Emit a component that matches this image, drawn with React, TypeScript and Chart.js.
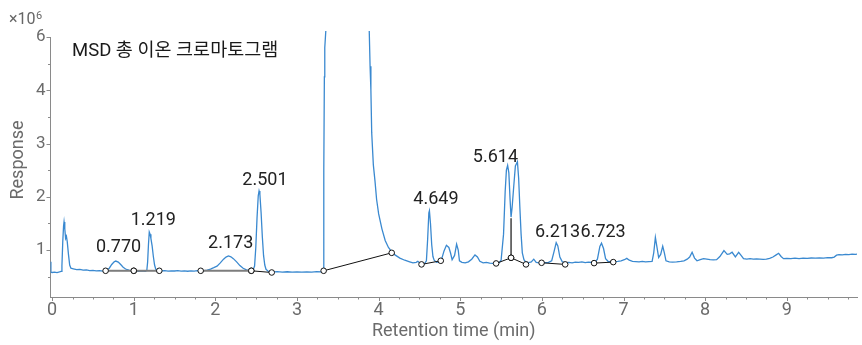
import React, { useEffect, useRef } from 'react';
import { Chart, registerables, LinearScale } from 'chart.js';

// ---------- data ----------
const traceTime = [
  -0.02, -0.015, 0.0, 0.03, 0.06, 0.09, 0.11, 0.12, 0.13, 0.14, 0.146, 0.155, 0.165, 0.175, 0.185, 0.2, 0.215, 0.23,
  0.26, 0.3, 0.34, 0.38, 0.42, 0.46, 0.5, 0.54, 0.58, 0.62, 0.66, 0.7, 0.73, 0.76, 0.78, 0.81, 0.84, 0.87, 0.9, 0.94,
  0.98, 1.02, 1.06, 1.1, 1.14, 1.16, 1.17, 1.18, 1.19, 1.2, 1.21, 1.225, 1.24, 1.255, 1.27, 1.29, 1.33, 1.38, 1.42,
  1.46, 1.5, 1.54, 1.58, 1.62, 1.66, 1.7, 1.74, 1.78, 1.82, 1.86, 1.9, 1.94, 1.98, 2.02, 2.06, 2.1, 2.13, 2.16, 2.19,
  2.22, 2.26, 2.3, 2.34, 2.38, 2.42, 2.46, 2.48, 2.495, 2.51, 2.525, 2.535, 2.545, 2.56, 2.575, 2.59, 2.605, 2.62,
  2.65, 2.7, 2.76, 2.82, 2.88, 2.94, 3.0, 3.06, 3.12, 3.18, 3.24, 3.3, 3.32, 3.326, 3.33, 3.335, 3.34, 3.36, 3.45,
  3.65, 3.85, 3.885, 3.895, 3.905, 3.915, 3.935, 3.955, 3.975, 4.0, 4.04, 4.08, 4.12, 4.16, 4.2, 4.26, 4.32, 4.38,
  4.42, 4.46, 4.48, 4.5, 4.525, 4.56, 4.585, 4.6, 4.615, 4.622, 4.635, 4.65, 4.665, 4.68, 4.71, 4.74, 4.77, 4.8,
  4.83, 4.86, 4.88, 4.9, 4.93, 4.955, 4.975, 4.99, 5.02, 5.06, 5.1, 5.14, 5.18, 5.21, 5.24, 5.28, 5.32, 5.36, 5.4,
  5.44, 5.48, 5.5, 5.53, 5.55, 5.565, 5.58, 5.595, 5.61, 5.622, 5.635, 5.655, 5.675, 5.7, 5.715, 5.73, 5.745, 5.76,
  5.78, 5.8, 5.84, 5.87, 5.9, 5.93, 5.97, 6.0, 6.04, 6.08, 6.12, 6.15, 6.175, 6.195, 6.22, 6.25, 6.29, 6.33, 6.37,
  6.41, 6.45, 6.49, 6.53, 6.57, 6.61, 6.65, 6.68, 6.71, 6.73, 6.755, 6.78, 6.81, 6.85, 6.89, 6.93, 6.97, 7.01, 7.04,
  7.07, 7.11, 7.15, 7.19, 7.23, 7.27, 7.31, 7.35, 7.37, 7.39, 7.41, 7.43, 7.455, 7.48, 7.5, 7.52, 7.56, 7.6, 7.65,
  7.7, 7.74, 7.78, 7.81, 7.84, 7.87, 7.9, 7.94, 7.98, 8.02, 8.06, 8.1, 8.14, 8.18, 8.23, 8.27, 8.3, 8.33, 8.37, 8.41,
  8.44, 8.47, 8.51, 8.55, 8.59, 8.63, 8.67, 8.71, 8.75, 8.79, 8.83, 8.87, 8.9, 8.93, 8.96, 9.0, 9.05, 9.1, 9.15, 9.2,
  9.25, 9.3, 9.35, 9.4, 9.45, 9.5, 9.55, 9.58, 9.61, 9.64, 9.68, 9.72, 9.76, 9.8, 9.84, 9.86,
];
const traceResp = [
  0.78, 0.585, 0.58, 0.585, 0.578, 0.59, 0.6, 0.7, 1.15, 1.45, 1.53, 1.4, 1.22, 1.26, 1.16, 0.92, 0.72, 0.66,
  0.65, 0.635, 0.64, 0.625, 0.63, 0.615, 0.62, 0.61, 0.615, 0.605, 0.615, 0.66, 0.73, 0.78, 0.795, 0.775, 0.73, 0.68, 0.645, 0.625,
  0.61, 0.605, 0.6, 0.61, 0.6, 0.62, 0.78, 1.1, 1.34, 1.3, 1.22, 1.08, 0.88, 0.72, 0.64, 0.615, 0.61, 0.615, 0.605,
  0.612, 0.608, 0.614, 0.605, 0.61, 0.603, 0.612, 0.606, 0.614, 0.61, 0.615, 0.625, 0.645, 0.67, 0.7, 0.76, 0.83, 0.87, 0.89, 0.875,
  0.84, 0.78, 0.71, 0.66, 0.63, 0.615, 0.62, 0.7, 1.05, 1.6, 2.02, 2.11, 2.05, 1.7, 1.25, 0.9, 0.72, 0.64,
  0.6, 0.59, 0.595, 0.588, 0.594, 0.586, 0.592, 0.587, 0.593, 0.588, 0.595, 0.59, 0.6, 0.62, 2.5, 4.5, 5.6, 6.6, 12,
  15, 10, 6.2, 4.9, 4.0, 3.2, 2.6, 2.3, 1.95, 1.68, 1.4, 1.18, 1.05, 0.97, 0.91, 0.85, 0.81, 0.78,
  0.76, 0.77, 0.79, 0.765, 0.73, 0.74, 0.8, 1.2, 1.7, 1.74, 1.5, 1.1, 0.88, 0.81, 0.77, 0.78, 0.82, 0.98,
  1.09, 1.05, 0.95, 0.82, 0.9, 1.11, 1.0, 0.8, 0.77, 0.76, 0.78, 0.83, 0.91, 0.87, 0.79, 0.76, 0.77, 0.755, 0.75,
  0.76, 0.77, 0.81, 1.3, 2.1, 2.5, 2.59, 2.45, 1.95, 1.62, 1.8, 2.2, 2.58, 2.66, 2.35, 1.8, 1.3, 0.95,
  0.82, 0.78, 0.765, 0.78, 0.83, 0.77, 0.76, 0.77, 0.765, 0.77, 0.8, 0.98, 1.14, 1.08, 0.87, 0.78, 0.765, 0.77, 0.76,
  0.775, 0.77, 0.78, 0.765, 0.775, 0.77, 0.775, 0.83, 1.07, 1.13, 1.03, 0.84, 0.79, 0.78, 0.785, 0.79, 0.8, 0.82, 0.845,
  0.81, 0.79, 0.785, 0.78, 0.79, 0.78, 0.785, 0.79, 0.95, 1.24, 1.05, 0.86, 0.92, 1.075, 0.95, 0.8, 0.78, 0.775, 0.78,
  0.79, 0.8, 0.83, 0.87, 0.96, 0.85, 0.8, 0.82, 0.84, 0.83, 0.82, 0.815, 0.82, 0.88, 0.99, 0.92, 0.93, 0.96, 0.875, 0.96,
  0.9, 0.84, 0.83, 0.84, 0.83, 0.835, 0.83, 0.825, 0.83, 0.845, 0.87, 0.91, 0.94, 0.88, 0.84, 0.845, 0.84, 0.848, 0.842, 0.85,
  0.845, 0.852, 0.848, 0.855, 0.85, 0.86, 0.857, 0.87, 0.905, 0.915, 0.91, 0.92, 0.915, 0.925, 0.92, 0.925,
];

const xTickValues = [0, 1, 2, 3, 4, 5, 6, 7, 8, 9];
const yTickValues = [1, 2, 3, 4, 6];

const peakLabels = ['0.770', '1.219', '2.173', '2.501', '4.649', '5.614', '6.213', '6.723'];
const peakTimes = [0.77, 1.219, 2.173, 2.501, 4.649, 5.614, 6.213, 6.723];
const peakApex = [0.795, 1.34, 0.89, 2.11, 1.74, 2.66, 1.14, 1.13];

const baseX0 = [0.655, 1.0, 1.82, 2.44, 3.326, 4.525, 5.439, 5.622, 5.996, 6.639];
const baseY0 = [0.612, 0.612, 0.612, 0.612, 0.612, 0.732, 0.75, 0.856, 0.762, 0.756];
const baseX1 = [1.0, 1.313, 2.44, 2.69, 4.16, 4.761, 5.622, 5.805, 6.285, 6.874];
const baseY1 = [0.612, 0.612, 0.612, 0.58, 0.949, 0.8, 0.856, 0.732, 0.732, 0.775];

const dropX = 5.622;
const dropY0 = 0.856;
const dropY1 = 1.6;

// ---------- style ----------
const TRACE_COLOR = '#3a89d0';
const AXIS_COLOR = '#8a8a8a';
const TEXT_GRAY = '#6b6b6b';
const FONT = 'Roboto, "Noto Sans CJK KR", sans-serif';
const baseColors = ['#7d7d7d', '#7d7d7d', '#7d7d7d', '#111', '#111', '#111', '#111', '#111', '#111', '#111'];
const baseWidths = [2, 2, 2, 1, 1, 1, 1, 1, 1, 1];
const labelNudge = [[3.6, -2.4], [1.7, -0.4], [1.2, -1.4], [8.6, 1.4], [4.3, 0], [-15, 7.3], [-1.8, 1.3], [2.2, 0.7]];

// piecewise y axis: above 4 the axis is compressed by half
const BREAK = 4;
const FACTOR = 0.5;
const tf = (v: number) => (v <= BREAK ? v : BREAK + (v - BREAK) * FACTOR);
const itf = (t: number) => (t <= BREAK ? t : BREAK + (t - BREAK) / FACTOR);

class CompressedScale extends LinearScale {
  static id = 'compressed';
  static defaults = (LinearScale as any).defaults;
  getPixelForValue(value: number) {
    const a = tf((this as any).min);
    const b = tf((this as any).max);
    return (this as any).getPixelForDecimal((tf(value) - a) / (b - a));
  }
  getValueForPixel(pixel: number) {
    const a = tf((this as any).min);
    const b = tf((this as any).max);
    return itf(a + (this as any).getDecimalForPixel(pixel) * (b - a));
  }
}

Chart.register(...registerables, CompressedScale as any);

const decorPlugin = {
  id: 'decor',
  afterDatasetsDraw(chart: any) {
    const { ctx, scales } = chart;
    const x = scales.x;
    const y = scales.y;
    ctx.save();
    ctx.font = '18px ' + FONT;
    ctx.fillStyle = '#222';
    ctx.textAlign = 'center';
    ctx.textBaseline = 'middle';
    peakLabels.forEach((lab, i) => {
      const px = x.getPixelForValue(peakTimes[i]) + labelNudge[i][0];
      const py = y.getPixelForValue(peakApex[i]) - 11.5 + labelNudge[i][1];
      ctx.fillText(lab, px, py);
    });
    ctx.restore();
  },
  afterDraw(chart: any) {
    const { ctx, chartArea, scales } = chart;
    const x = scales.x;
    const y = scales.y;
    ctx.save();
    ctx.strokeStyle = AXIS_COLOR;
    ctx.lineWidth = 1;
    ctx.beginPath();
    for (let k = 0; k <= 39; k++) {
      const v = k * 0.25;
      const px = Math.round(x.getPixelForValue(v)) + 0.5;
      const len = k % 4 === 0 ? 4 : 2.5;
      ctx.moveTo(px, chartArea.bottom);
      ctx.lineTo(px, chartArea.bottom + len);
    }
    const minorY = [0.5, 1.5, 2.5, 3.5, 5];
    yTickValues.forEach((v) => {
      const py = Math.round(y.getPixelForValue(v)) + 0.5;
      ctx.moveTo(chartArea.left, py);
      ctx.lineTo(chartArea.left - 4, py);
    });
    minorY.forEach((v) => {
      const py = Math.round(y.getPixelForValue(v)) + 0.5;
      ctx.moveTo(chartArea.left, py);
      ctx.lineTo(chartArea.left - 2.5, py);
    });
    ctx.stroke();

    // y axis title
    ctx.save();
    ctx.translate(18, 160);
    ctx.rotate(-Math.PI / 2);
    ctx.fillStyle = TEXT_GRAY;
    ctx.font = '18px ' + FONT;
    ctx.textAlign = 'center';
    ctx.textBaseline = 'middle';
    ctx.fillText('Response', 0, 0);
    ctx.restore();

    // exponent
    ctx.fillStyle = '#666';
    ctx.textAlign = 'left';
    ctx.textBaseline = 'alphabetic';
    ctx.font = '16px ' + FONT;
    ctx.fillText('×10', 9, 23.5);
    const w = ctx.measureText('×10').width;
    ctx.font = '11px ' + FONT;
    ctx.fillText('6', 9 + w + 0.5, 18.5);

    // chart title
    ctx.fillStyle = '#1a1a1a';
    ctx.font = '18.5px ' + FONT;
    ctx.fillText('MSD 총 이온 크로마토그램', 72, 55.5);
    ctx.restore();
  },
};

export default function App() {
  const ref = useRef<HTMLCanvasElement>(null);
  useEffect(() => {
    const trace = traceTime.map((t, i) => ({ x: t, y: traceResp[i] }));
    const segs = baseX0.map((x0, i) => ({
      type: 'line' as const,
      data: [
        { x: x0, y: baseY0[i] },
        { x: baseX1[i], y: baseY1[i] },
      ],
      borderColor: baseColors[i],
      borderWidth: baseWidths[i],
      pointRadius: 2.8,
      pointBackgroundColor: '#fff',
      pointBorderColor: '#111',
      pointBorderWidth: 1,
      fill: false,
      order: 0,
      clip: false as any,
    }));
    const chart = new Chart(ref.current as HTMLCanvasElement, {
      type: 'line',
      data: {
        datasets: [
          {
            data: [
              { x: dropX, y: dropY0 },
              { x: dropX, y: dropY1 },
            ],
            borderColor: '#111',
            borderWidth: 1.2,
            pointRadius: 0,
            fill: false,
            order: 1,
          },
          ...segs,
          {
            data: trace,
            borderColor: TRACE_COLOR,
            borderWidth: 1.3,
            pointRadius: 0,
            fill: false,
            tension: 0,
            order: 5,
            clip: { left: 0, top: 6, right: 0, bottom: 0 } as any,
          },
        ] as any,
      },
      options: {
        animation: false,
        responsive: false,
        devicePixelRatio: 1,
        events: [],
        layout: { padding: { top: 37, right: 1, left: 0, bottom: 0 } },
        plugins: { legend: { display: false }, tooltip: { enabled: false }, title: { display: false } },
        scales: {
          x: {
            type: 'linear',
            min: -0.02,
            max: 9.86,
            afterBuildTicks: (s: any) => {
              s.ticks = xTickValues.map((v) => ({ value: v }));
            },
            afterFit: (s: any) => {
              s.height = 48;
            },
            grid: { display: false, drawTicks: false },
            border: { display: true, color: AXIS_COLOR, width: 1 },
            ticks: { color: TEXT_GRAY, font: { size: 18, family: FONT }, padding: 3, maxRotation: 0, autoSkip: false },
            title: {
              display: true,
              text: 'Retention time (min)',
              color: TEXT_GRAY,
              font: { size: 18, family: FONT },
              padding: { top: 0, bottom: 3 },
            },
          },
          y: {
            type: 'compressed' as any,
            min: 0.12,
            max: 6,
            afterBuildTicks: (s: any) => {
              s.ticks = yTickValues.map((v) => ({ value: v }));
            },
            afterFit: (s: any) => {
              s.width = 50.5;
            },
            grid: { display: false, drawTicks: false },
            border: { display: true, color: AXIS_COLOR, width: 1 },
            ticks: { color: TEXT_GRAY, font: { size: 17, family: FONT }, padding: 5, autoSkip: false },
            title: { display: false },
          },
        } as any,
      },
      plugins: [decorPlugin],
    });
    return () => chart.destroy();
  }, []);
  return (
    <div style={{ position: 'fixed', left: 0, top: 0, width: 862, height: 345, background: '#fff' }}>
      <canvas ref={ref} width={862} height={345} style={{ display: 'block', width: 862, height: 345 }} />
    </div>
  );
}
